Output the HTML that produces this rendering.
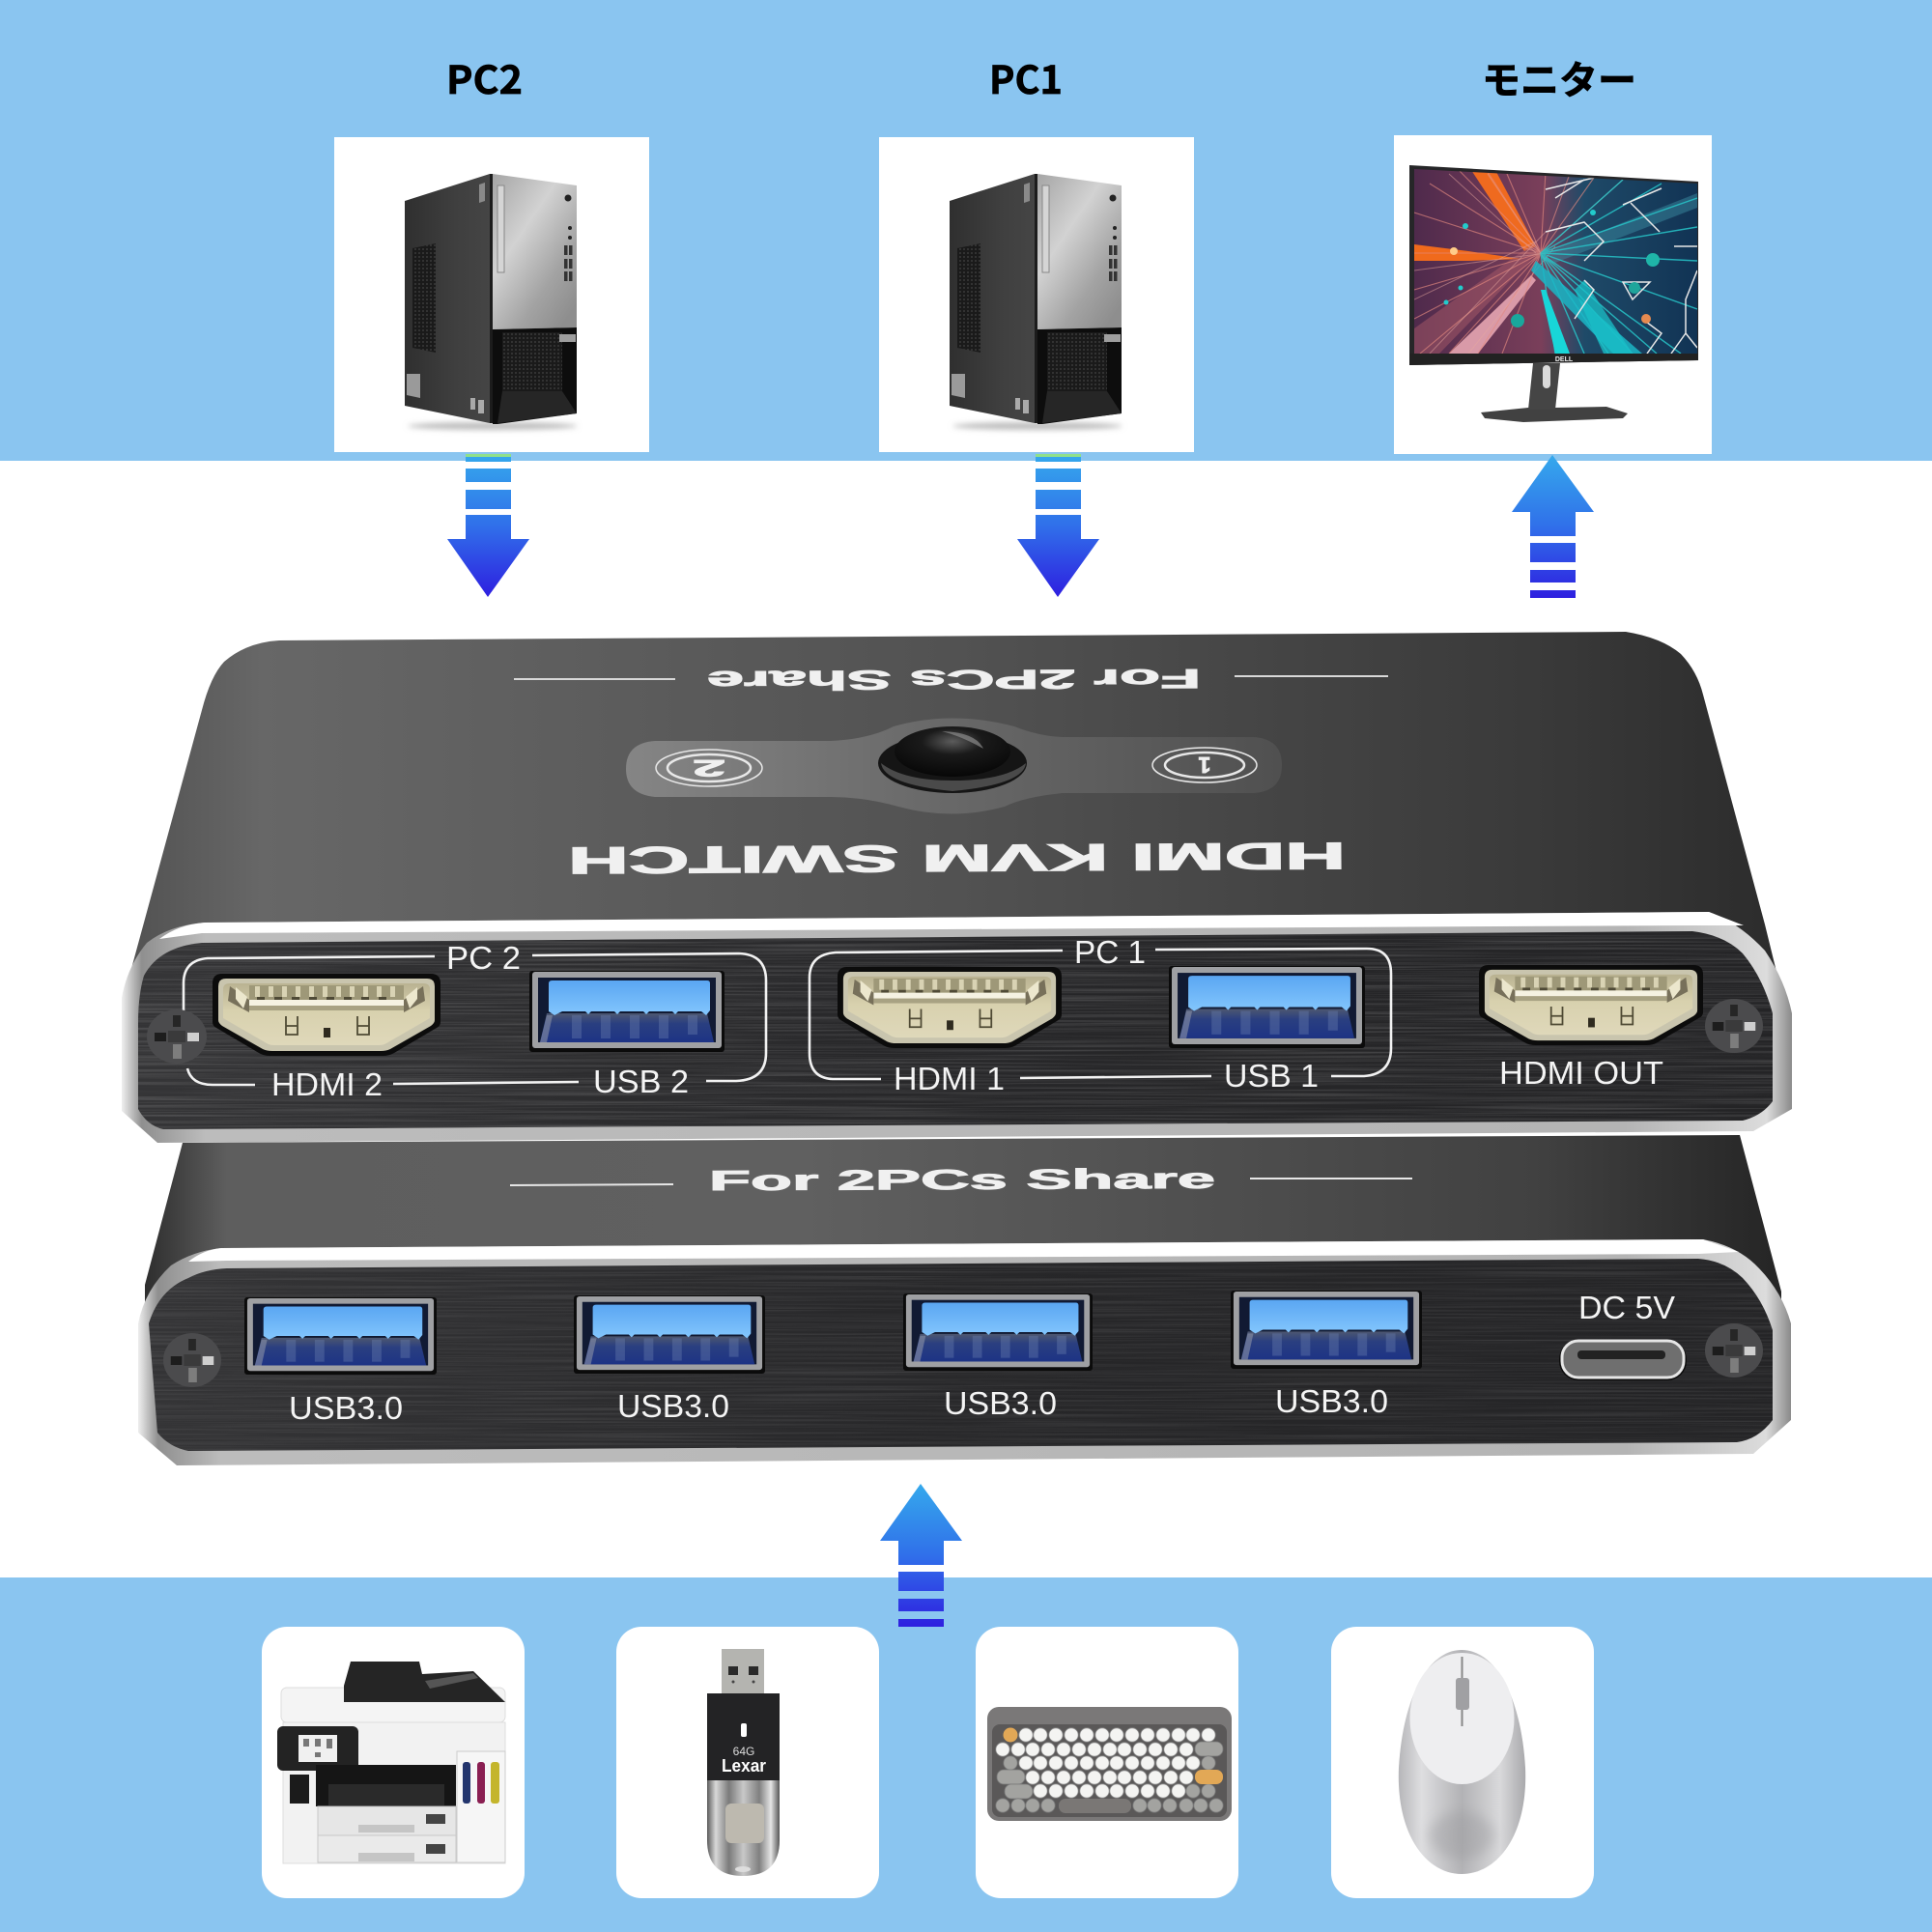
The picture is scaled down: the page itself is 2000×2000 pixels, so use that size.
<!DOCTYPE html>
<html lang="ja"><head><meta charset="utf-8"><title>HDMI KVM Switch</title>
<style>html,body{margin:0;padding:0;background:#fff}svg{display:block}
.l{font-family:"Liberation Sans",sans-serif;fill:#f4f4f4}
.b{font-family:"Liberation Sans",sans-serif;font-weight:700;fill:#f0f0f0;stroke:#f0f0f0;stroke-width:.9}
.t{font-family:"Noto Sans CJK JP","Liberation Sans",sans-serif;font-weight:700;fill:#000;stroke:#000;stroke-width:.7}
</style></head><body>
<svg xmlns="http://www.w3.org/2000/svg" width="2000" height="2000" viewBox="0 0 2000 2000">
<defs>
<linearGradient id="ad" x1="0" y1="0" x2="0" y2="1"><stop offset="0" stop-color="#35a9ec"/><stop offset=".5" stop-color="#3070ea"/><stop offset="1" stop-color="#2e1fe0"/></linearGradient>
<linearGradient id="topS" x1="0" y1="0" x2="1" y2="0"><stop offset="0" stop-color="#525252"/><stop offset=".08" stop-color="#676767"/><stop offset=".5" stop-color="#525252"/><stop offset=".85" stop-color="#3a3a3a"/><stop offset="1" stop-color="#2c2c2c"/></linearGradient>
<linearGradient id="topS2" x1="0" y1="0" x2="1" y2="0"><stop offset="0" stop-color="#2e2e2e"/><stop offset=".05" stop-color="#5e5e5e"/><stop offset=".4" stop-color="#606060"/><stop offset=".85" stop-color="#414141"/><stop offset="1" stop-color="#252525"/></linearGradient>
<linearGradient id="face" x1="0" y1="0" x2="1" y2="0"><stop offset="0" stop-color="#343436"/><stop offset=".5" stop-color="#272729"/><stop offset="1" stop-color="#242426"/></linearGradient>
<linearGradient id="bez" x1="0" y1="0" x2="1" y2="0"><stop offset="0" stop-color="#efefef"/><stop offset=".012" stop-color="#8f8f8f"/><stop offset=".05" stop-color="#bcbcbc"/><stop offset=".9" stop-color="#b4b4b4"/><stop offset=".985" stop-color="#dcdcdc"/><stop offset="1" stop-color="#8a8a8a"/></linearGradient>
<linearGradient id="plate" x1="0" y1="0" x2="1" y2="0"><stop offset="0" stop-color="#858585"/><stop offset=".45" stop-color="#6a6a6a"/><stop offset="1" stop-color="#505050"/></linearGradient>
<filter id="brush" x="0" y="0" width="1" height="1" color-interpolation-filters="sRGB"><feTurbulence type="fractalNoise" baseFrequency="0.004 0.55" numOctaves="2" seed="7"/><feColorMatrix type="matrix" values="0 0 0 0 1 0 0 0 0 1 0 0 0 0 1 .9 0 0 0 -.36"/><feComposite in2="SourceGraphic" operator="in"/></filter>
<filter id="soft" x="-20%" y="-100%" width="140%" height="300%"><feGaussianBlur stdDeviation="3"/></filter>
<filter id="soft1" x="-20%" y="-20%" width="140%" height="140%"><feGaussianBlur stdDeviation="6"/></filter>
<radialGradient id="btn" cx=".5" cy=".3" r=".75"><stop offset="0" stop-color="#5c5c5c"/><stop offset=".35" stop-color="#1a1a1a"/><stop offset="1" stop-color="#050505"/></radialGradient>
<linearGradient id="sil" x1="0" y1="0" x2=".8" y2="1"><stop offset="0" stop-color="#a5a5a5"/><stop offset=".4" stop-color="#d2d2d2"/><stop offset=".75" stop-color="#a3a3a3"/><stop offset="1" stop-color="#8e8e8e"/></linearGradient>
<linearGradient id="side" x1="0" y1="0" x2="1" y2="0"><stop offset="0" stop-color="#2f2f2f"/><stop offset=".6" stop-color="#3f3f3f"/><stop offset="1" stop-color="#454545"/></linearGradient>
<linearGradient id="usbt" x1="0" y1="0" x2="0" y2="1"><stop offset="0" stop-color="#5aa6f2"/><stop offset="1" stop-color="#83c6fd"/></linearGradient>
<linearGradient id="usbb" x1="0" y1="0" x2="0" y2="1"><stop offset="0" stop-color="#4d5770"/><stop offset=".35" stop-color="#2a3f80"/><stop offset="1" stop-color="#1d3385"/></linearGradient>
<linearGradient id="cream" x1="0" y1="0" x2="0" y2="1"><stop offset="0" stop-color="#b9b291"/><stop offset=".45" stop-color="#d8d1ae"/><stop offset="1" stop-color="#dfd8ba"/></linearGradient>
<linearGradient id="mouse" x1="0" y1="0" x2="1" y2="0"><stop offset="0" stop-color="#b6b6b9"/><stop offset=".18" stop-color="#dedee0"/><stop offset=".5" stop-color="#b2b2b5"/><stop offset=".8" stop-color="#d9d9db"/><stop offset="1" stop-color="#a9a9ac"/></linearGradient>
<linearGradient id="met" x1="0" y1="0" x2="1" y2="0"><stop offset="0" stop-color="#5c5c5c"/><stop offset=".12" stop-color="#d8d8d8"/><stop offset=".3" stop-color="#7a7a7a"/><stop offset=".5" stop-color="#c8c8c8"/><stop offset=".72" stop-color="#808080"/><stop offset=".88" stop-color="#e5e5e5"/><stop offset="1" stop-color="#555"/></linearGradient>
<linearGradient id="scr" x1="0" y1="0" x2="1" y2="0"><stop offset="0" stop-color="#4f2a4c"/><stop offset=".45" stop-color="#7a3f5a"/><stop offset=".6" stop-color="#1f4a68"/><stop offset="1" stop-color="#113354"/></linearGradient>
<pattern id="mesh" width="4" height="4" patternUnits="userSpaceOnUse"><rect width="4" height="4" fill="#1a1a1a"/><circle cx="2" cy="2" r="1" fill="#3a3a3a"/></pattern>

<symbol id="hdmi" viewBox="0 0 236 85" preserveAspectRatio="none">
<path d="M10 0H226Q236 0 236 10V50Q236 54 232 56L188 82Q183 85 176 85H60Q53 85 48 82L4 56Q0 54 0 50V10Q0 0 10 0Z" fill="#0c0c0c"/>
<path d="M14 5H222Q230 5 230 13V48Q230 51 226 54L184 78Q180 80 174 80H62Q56 80 52 78L10 54Q6 51 6 48V13Q6 5 14 5Z" fill="#c9c5ae"/>
<path d="M18 10H218Q225 10 225 16V46L180 72Q177 74 172 74H64Q59 74 56 72L11 46V16Q11 10 18 10Z" fill="url(#cream)"/>
<rect x="38" y="12" width="160" height="15" fill="#9e9878"/>
<g fill="#d9d3b4"><rect x="44" y="13" width="5" height="11"/><rect x="58" y="13" width="5" height="11"/><rect x="72" y="13" width="5" height="11"/><rect x="86" y="13" width="5" height="11"/><rect x="100" y="13" width="5" height="11"/><rect x="114" y="13" width="5" height="11"/><rect x="128" y="13" width="5" height="11"/><rect x="142" y="13" width="5" height="11"/><rect x="156" y="13" width="5" height="11"/><rect x="170" y="13" width="5" height="11"/><rect x="184" y="13" width="5" height="11"/></g>
<g fill="#4f4a36"><rect x="46" y="24" width="8" height="3"/><rect x="64" y="24" width="8" height="3"/><rect x="82" y="24" width="8" height="3"/><rect x="100" y="24" width="8" height="3"/><rect x="118" y="24" width="8" height="3"/><rect x="136" y="24" width="8" height="3"/><rect x="154" y="24" width="8" height="3"/><rect x="172" y="24" width="8" height="3"/></g>
<rect x="38" y="27" width="160" height="6" fill="#f5f2e2"/>
<rect x="38" y="33" width="160" height="5" fill="#a8a283"/>
<path d="M18 13L38 27V40L16 28ZM218 13L198 27V40L220 28Z" fill="#77705a"/>
<path d="M24 14L36 24 32 36 24 26ZM212 14L200 24 204 36 212 26Z" fill="#ece7cd"/>
<g fill="none" stroke="#4f4a34" stroke-width="1.8"><path d="M76 44V63H88V44M76 54H88"/><path d="M150 44V63H162V44M150 54H162"/></g>
<rect x="115" y="56" width="7" height="10" fill="#2f2b1f"/>
</symbol>

<symbol id="usb" viewBox="0 0 202 84" preserveAspectRatio="none">
<rect x="0" y="0" width="202" height="84" rx="3" fill="#0b0b0b"/>
<rect x="3" y="1" width="196" height="79" rx="3" fill="#9fa0a3"/>
<rect x="9" y="7" width="184" height="67" fill="#111a33"/>
<path d="M18 44H184L191 74H11Z" fill="url(#usbb)"/>
<g fill="#7186b5" opacity=".35"><rect x="44" y="46" width="10" height="24"/><rect x="74" y="46" width="10" height="24"/><rect x="104" y="46" width="10" height="24"/><rect x="134" y="46" width="10" height="24"/><rect x="164" y="46" width="10" height="20"/></g>
<path d="M11 74L18 46H24L18 74Z" fill="#8c93a6" opacity=".6"/>
<path d="M20 13Q20 10 24 10H184Q187 10 187 13V41L183 46 178 42H154L151 45 148 42H124L121 45 118 42H94L91 45 88 42H64L61 45 58 42H34L26 46 20 42Z" fill="url(#usbt)"/>
</symbol>

<symbol id="screw" viewBox="0 0 62 56" preserveAspectRatio="none">
<ellipse cx="31" cy="28" rx="31" ry="28" fill="#4b4b4d"/>
<rect x="27" y="6" width="8" height="12" fill="#262626"/><rect x="8" y="24" width="12" height="9" fill="#1d1d1d"/><rect x="42" y="24" width="12" height="9" fill="#cfcfcf"/><rect x="27" y="36" width="9" height="15" fill="#7d7d7d"/><rect x="22" y="22" width="18" height="12" fill="#333" opacity=".7"/>
</symbol>

<g id="pc">
<ellipse cx="510" cy="441" rx="88" ry="4" fill="#bdbdbd" filter="url(#soft)"/>
<path d="M419 208L507 180V438L419 420Z" fill="url(#side)"/>
<path d="M427 257L451 252V365L427 360Z" fill="url(#mesh)"/>
<path d="M496 191L502 189V208L496 210Z" fill="#8a8a8a"/>
<path d="M421 387H435V412L421 409Z" fill="#9a9a9a"/><path d="M487 412H492V424H487ZM495 414H501V428H495Z" fill="#aaa"/>
<path d="M507 180L510 180V340L515 438H507Z" fill="#1c1c1c"/>
<path d="M510 180L597 192V339L510 341Z" fill="url(#sil)"/>
<path d="M510 341L597 339V428L515 439H510Z" fill="#0d0d0d"/>
<path d="M520 344H582V405H520Z" fill="url(#mesh)"/>
<path d="M520 405H582L597 428 515 438Z" fill="#262626"/>
<rect x="579" y="346" width="17" height="8" fill="#9e9e9e"/>
<rect x="515" y="192" width="7" height="90" fill="#d5d5d5" stroke="#888" stroke-width="1"/>
<circle cx="588" cy="205" r="3.5" fill="#222"/><circle cx="590" cy="236" r="2" fill="#222"/><circle cx="590" cy="246" r="2" fill="#222"/>
<g fill="#333"><rect x="584" y="254" width="3.5" height="10"/><rect x="589" y="254" width="3.5" height="10"/><rect x="584" y="268" width="3.5" height="10"/><rect x="589" y="268" width="3.5" height="10"/><rect x="584" y="281" width="3.5" height="10"/><rect x="589" y="281" width="3.5" height="10"/></g>
</g>

<g id="adown" fill="url(#ad)">
<path d="M482 470H529V478H482ZM482 485H529V499H482ZM482 507H529V527H482ZM482 533H529V558H548L505 618 463 558H482Z"/>
<rect x="482" y="470" width="47" height="3" fill="#8fe08a"/>
</g>
<g id="aup">
<path fill="url(#ad)" d="M1607 471L1650 530H1631V582H1584V530H1565ZM1584 590H1631V603H1584ZM1584 611H1631V619H1584Z"/>
<rect x="1580" y="555" width="55" height="7" fill="#fff"/>
</g>
</defs>

<rect width="2000" height="2000" fill="#fff"/>
<rect width="2000" height="477" fill="#8ac5f0"/>
<rect y="1633" width="2000" height="367" fill="#8ac5f0"/>

<rect x="346" y="142" width="326" height="326" fill="#fff"/>
<rect x="910" y="142" width="326" height="326" fill="#fff"/>
<rect x="1443" y="140" width="329" height="330" fill="#fff"/>
<text class="t" x="462" y="97" font-size="40" textLength="79" lengthAdjust="spacingAndGlyphs">PC2</text>
<text class="t" x="1024" y="97" font-size="40" textLength="76" lengthAdjust="spacingAndGlyphs">PC1</text>
<text class="t" x="1534" y="97" font-size="40" textLength="160" lengthAdjust="spacingAndGlyphs">モニター</text>

<use href="#pc"/>
<use href="#pc" x="564"/>

<!-- monitor -->
<path d="M1533 427L1582 422H1610L1663 421 1685 428 1680 433 1577 437 1537 433Z" fill="#414141"/>
<path d="M1587 376H1615L1610 424H1582Z" fill="#454545"/><rect x="1597" y="378" width="8" height="24" rx="4" fill="#fff" opacity=".8"/>
<path d="M1459 171L1758 188V373L1459 378Z" fill="#262628"/>
<path d="M1464 175L1757 190V366L1464 366Z" fill="url(#scr)"/>
<clipPath id="sc"><path d="M1464 175L1757 190V366L1464 366Z"/></clipPath>
<g clip-path="url(#sc)">
<path d="M1523 176L1549 178 1590 255 1578 260Z" fill="#ef6a1f"/>
<path d="M1464 253L1520 260 1575 268 1520 270 1464 270Z" fill="#f06a1c"/>
<path d="M1500 366L1585 285 1590 290 1530 366Z" fill="#d99aa8"/>
<path d="M1464 340L1590 250 1595 258 1490 366H1464Z" fill="#a85a68" opacity=".5"/>
<g stroke="#e58a80" stroke-width="1.1" opacity=".65" fill="none"><path d="M1595 262L1600 178M1595 262L1625 180M1595 262L1650 184M1595 262L1680 186M1595 262L1560 180M1595 262L1540 178M1595 262L1510 176M1595 262L1480 190M1595 262L1464 220M1595 262L1464 262M1595 262L1464 300M1595 262L1464 330M1595 262L1470 366M1595 262L1500 366M1595 262L1530 366M1595 262L1555 366"/></g>
<g stroke="#e8a8a0" stroke-width="1" opacity=".5" fill="none"><path d="M1464 280L1600 262M1464 310L1590 250M1480 366L1600 240M1520 366L1610 255M1500 180L1590 262M1540 180L1600 270"/></g>
<path d="M1600 262L1757 200V215L1610 272Z" fill="#3a8aa0" opacity=".5"/>
<g stroke="#27c5c9" stroke-width="1.4" opacity=".85" fill="none"><path d="M1595 262L1757 205M1595 262L1757 235M1595 262L1757 270M1595 262L1757 320M1595 262L1740 366M1595 262L1715 366M1595 262L1690 366M1595 262L1665 366M1595 262L1640 366M1595 262L1610 366M1595 262L1720 190M1595 262L1680 186"/></g>
<path d="M1590 270L1700 366H1670L1585 280Z" fill="#1bb6c5" opacity=".85"/>
<path d="M1600 300L1625 366H1610L1595 300Z" fill="#18d6d8"/>
<path d="M1640 290L1690 366H1660L1630 300Z" fill="#1ac0c8" opacity=".75"/>
<g fill="none" stroke="#e8e8e8" stroke-width="1.5"><path d="M1600 196L1650 184M1610 205L1640 186M1680 212L1720 195M1688 210L1718 240M1733 255H1757M1757 280L1745 310V345L1757 360M1745 345L1730 366M1680 292H1708L1690 310ZM1600 240L1640 230 1660 250 1640 270M1640 290L1650 300 1630 330M1700 330L1720 345 1705 366"/></g>
<circle cx="1711" cy="269" r="7" fill="#1fb5a8"/><circle cx="1571" cy="332" r="7" fill="#19a79c"/><circle cx="1692" cy="298" r="6" fill="#1fa59b"/><circle cx="1517" cy="234" r="3" fill="#2cc"/><circle cx="1512" cy="298" r="2.5" fill="#2cc"/><circle cx="1497" cy="313" r="2.5" fill="#2cc"/><circle cx="1649" cy="220" r="3" fill="#2cc"/><circle cx="1505" cy="260" r="4" fill="#fc8"/><circle cx="1704" cy="330" r="5" fill="#e58a50"/>
</g>
<path d="M1459 366H1758V373L1459 378Z" fill="#222"/>
<text x="1619" y="374" font-family="Liberation Sans,sans-serif" font-size="7" font-weight="700" fill="#eee" text-anchor="middle">DELL</text>

<use href="#adown"/>
<use href="#adown" x="590"/>
<use href="#aup"/>
<use href="#aup" x="-654" y="1065"/>

<!-- lower device -->
<path d="M189 1183L1801 1175 1844 1337V1400H150V1330Z" fill="url(#topS2)"/>
<text class="b" x="734" y="1231" font-size="29" textLength="524" lengthAdjust="spacingAndGlyphs" transform="rotate(-.25 996 1222)">For 2PCs Share</text>
<path d="M528 1227L697 1226" stroke="#e6e6e6" stroke-width="2"/><path d="M1294 1220L1462 1220" stroke="#e6e6e6" stroke-width="2"/>
<path d="M229 1292L1763 1283Q1800 1290 1821 1313 1845 1338 1854 1370V1470L1815 1505 183 1517 143 1483V1370Q150 1335 177 1310 200 1295 229 1292Z" fill="url(#bez)"/>
<path d="M229 1292L1763 1283 1800 1296 1758 1298 235 1305 195 1306Q210 1294 229 1292Z" fill="#fff"/>
<path d="M235 1313L1758 1303Q1785 1305 1804 1323 1825 1345 1835 1377V1470Q1820 1490 1798 1493L195 1502Q175 1498 163 1483L154 1370Q165 1335 195 1323 212 1314 235 1313Z" fill="url(#face)"/>
<path d="M235 1313L1758 1303Q1785 1305 1804 1323 1825 1345 1835 1377V1470Q1820 1490 1798 1493L195 1502Q175 1498 163 1483L154 1370Q165 1335 195 1323 212 1314 235 1313Z" fill="#fff" filter="url(#brush)" opacity=".25"/>
<use href="#usb" x="253" y="1343" width="199" height="80"/>
<use href="#usb" x="594" y="1341" width="198" height="81"/>
<use href="#usb" x="935" y="1339" width="196" height="80"/>
<use href="#usb" x="1274" y="1336" width="198" height="81"/>
<text class="l" x="299" y="1469" font-size="33" textLength="118" lengthAdjust="spacingAndGlyphs">USB3.0</text>
<text class="l" x="639" y="1467" font-size="33" textLength="116" lengthAdjust="spacingAndGlyphs">USB3.0</text>
<text class="l" x="977" y="1464" font-size="33" textLength="117" lengthAdjust="spacingAndGlyphs">USB3.0</text>
<text class="l" x="1320" y="1462" font-size="33" textLength="117" lengthAdjust="spacingAndGlyphs">USB3.0</text>
<text class="l" x="1634" y="1365" font-size="33" textLength="100" lengthAdjust="spacingAndGlyphs">DC 5V</text>
<rect x="1614" y="1387" width="132" height="42" rx="20" fill="#0b0b0b"/>
<rect x="1617" y="1388" width="126" height="38" rx="17" fill="#6f6f6f" stroke="#e6e6e6" stroke-width="3"/>
<rect x="1633" y="1398" width="91" height="9" rx="4" fill="#222"/>
<use href="#screw" x="169" y="1380" width="60" height="56"/>
<use href="#screw" x="1765" y="1370" width="60" height="56"/>

<!-- upper device -->
<path d="M289 663L1683 654Q1720 660 1740 677 1757 695 1763 719L1827 957 1840 1010H134L209 735Q218 700 232 685 255 665 289 663Z" fill="url(#topS)"/>
<text class="b" x="733" y="712" font-size="28" textLength="511" lengthAdjust="spacingAndGlyphs" transform="rotate(179.75 988 703)">For 2PCs Share</text>
<path d="M532 703L699 703" stroke="#d8d8d8" stroke-width="2"/><path d="M1278 700L1437 700" stroke="#d8d8d8" stroke-width="2"/>
<path d="M678 767H860Q900 765 925 752 985 735 1050 752 1075 762 1100 763H1298Q1327 765 1327 792 1327 819 1298 821H1100Q1060 825 1040 835 985 850 930 835 895 825 860 825H678Q648 822 648 796 648 769 678 767Z" fill="url(#plate)"/>
<g fill="none" stroke="#e8e8e8"><ellipse cx="734" cy="795" rx="55" ry="19" stroke-width="1.5"/><ellipse cx="734" cy="795" rx="43" ry="14" stroke-width="2.5"/><ellipse cx="1247" cy="792" rx="54" ry="18" stroke-width="1.5"/><ellipse cx="1247" cy="792" rx="41" ry="13" stroke-width="2.5"/></g>
<text class="b" x="734" y="803" font-size="24" text-anchor="middle" transform="rotate(180 734 795)" textLength="34" lengthAdjust="spacingAndGlyphs">2</text>
<text class="b" x="1247" y="800" font-size="23" text-anchor="middle" transform="rotate(180 1247 792)">1</text>
<ellipse cx="986" cy="790" rx="77" ry="31" fill="#151515"/>
<path d="M912 790Q915 812 986 819 1060 812 1062 790Q1040 808 986 808 935 808 912 790Z" fill="#4a4a4a"/>
<ellipse cx="986" cy="778" rx="60" ry="26" fill="url(#btn)"/>
<path d="M975 757Q1010 758 1018 775 995 762 975 757Z" fill="#8a8a8a" opacity=".7"/>
<text class="b" x="589" y="903" font-size="39" textLength="805" lengthAdjust="spacingAndGlyphs" transform="rotate(179.65 991 889)" style="stroke-width:1.2">HDMI KVM SWITCH</text>

<path d="M212 955L1769 944Q1800 955 1827 984 1848 1015 1855 1049V1148L1815 1171 163 1183 126 1150V1033Q132 1000 152 976 175 958 212 955Z" fill="url(#bez)"/>
<path d="M212 955L1769 944 1805 958 1752 958 209 966 165 972Q185 957 212 955Z" fill="#fff"/>
<path d="M209 976L1752 964Q1785 968 1804 987 1825 1012 1835 1049V1140Q1824 1155 1804 1160L169 1169Q152 1165 143 1148V1060Q143 1030 149 1010 165 980 209 976Z" fill="url(#face)"/>
<path d="M209 976L1752 964Q1785 968 1804 987 1825 1012 1835 1049V1140Q1824 1155 1804 1160L169 1169Q152 1165 143 1148V1060Q143 1030 149 1010 165 980 209 976Z" fill="#fff" filter="url(#brush)" opacity=".4"/>

<g fill="none" stroke="#f2f2f2" stroke-width="2.6">
<path d="M450 990L215 992Q190 994 190 1018V1058"/>
<path d="M194 1106Q198 1123 220 1123H264"/>
<path d="M407 1122L599 1120"/>
<path d="M731 1119H762Q793 1118 793 1090V1015Q793 988 765 987L551 989"/>
<path d="M1100 984L865 986Q838 988 838 1012V1090Q838 1116 862 1117L912 1117"/>
<path d="M1056 1116L1254 1114"/>
<path d="M1378 1114H1412Q1440 1112 1440 1085V1008Q1440 982 1415 982L1196 983"/>
</g>
<use href="#hdmi" x="220" y="1008" width="236" height="85"/>
<use href="#hdmi" x="867" y="1001" width="232" height="84"/>
<use href="#hdmi" x="1531" y="999" width="232" height="83"/>
<use href="#usb" x="548" y="1005" width="202" height="84"/>
<use href="#usb" x="1210" y="1000" width="203" height="85"/>
<text class="l" x="462" y="1003" font-size="33" textLength="77" lengthAdjust="spacingAndGlyphs">PC 2</text>
<text class="l" x="1112" y="997" font-size="33" textLength="74" lengthAdjust="spacingAndGlyphs">PC 1</text>
<text class="l" x="281" y="1134" font-size="33" textLength="115" lengthAdjust="spacingAndGlyphs">HDMI 2</text>
<text class="l" x="614" y="1131" font-size="33" textLength="99" lengthAdjust="spacingAndGlyphs">USB 2</text>
<text class="l" x="925" y="1128" font-size="33" textLength="115" lengthAdjust="spacingAndGlyphs">HDMI 1</text>
<text class="l" x="1267" y="1125" font-size="33" textLength="98" lengthAdjust="spacingAndGlyphs">USB 1</text>
<text class="l" x="1552" y="1122" font-size="33" textLength="170" lengthAdjust="spacingAndGlyphs">HDMI OUT</text>
<use href="#screw" x="152" y="1045" width="62" height="56"/>
<use href="#screw" x="1765" y="1034" width="60" height="56"/>

<!-- bottom cards -->
<rect x="271" y="1684" width="272" height="281" rx="26" fill="#fff"/>
<rect x="638" y="1684" width="272" height="281" rx="26" fill="#fff"/>
<rect x="1010" y="1684" width="272" height="281" rx="26" fill="#fff"/>
<rect x="1378" y="1684" width="272" height="281" rx="26" fill="#fff"/>

<!-- printer -->
<rect x="291" y="1747" width="232" height="36" rx="6" fill="#f4f4f4" stroke="#ddd"/>
<rect x="293" y="1783" width="230" height="146" fill="#f2f2f2" stroke="#ddd"/>
<path d="M363 1720H434L437 1733 490 1730 523 1762H356V1745Z" fill="#252525"/>
<path d="M440 1740L490 1732 495 1737 445 1748Z" fill="#555"/>
<rect x="287" y="1787" width="84" height="46" rx="6" fill="#232323"/>
<rect x="309" y="1796" width="40" height="28" fill="#f0f0f0"/>
<g fill="#777"><rect x="314" y="1800" width="6" height="8"/><rect x="326" y="1800" width="6" height="8"/><rect x="338" y="1800" width="6" height="10"/><rect x="326" y="1814" width="6" height="5"/></g>
<rect x="327" y="1827" width="145" height="43" fill="#151515"/>
<rect x="340" y="1847" width="120" height="22" fill="#2a2a2a"/>
<rect x="300" y="1837" width="20" height="30" fill="#1b1b1b"/>
<rect x="473" y="1813" width="50" height="115" fill="#f6f6f6" stroke="#ccc"/>
<rect x="479" y="1824" width="8" height="43" rx="3" fill="#23356d"/><rect x="494" y="1824" width="8" height="43" rx="3" fill="#8a1f52"/><rect x="508" y="1824" width="9" height="43" rx="3" fill="#c4b52c"/>
<rect x="329" y="1870" width="143" height="30" fill="#e6e6e6" stroke="#c8c8c8"/><rect x="329" y="1900" width="143" height="28" fill="#eaeaea" stroke="#c8c8c8"/>
<rect x="441" y="1878" width="20" height="10" fill="#444"/><rect x="441" y="1909" width="20" height="10" fill="#444"/>
<rect x="371" y="1889" width="58" height="8" fill="#c5c5c5"/><rect x="371" y="1918" width="58" height="9" fill="#c5c5c5"/>

<!-- usb stick -->
<rect x="747" y="1707" width="44" height="46" fill="#b4b4b0"/>
<rect x="754" y="1725" width="10" height="9" fill="#2a2a2a"/><rect x="775" y="1725" width="10" height="9" fill="#2a2a2a"/>
<circle cx="759" cy="1741" r="1.5" fill="#444"/><circle cx="780" cy="1741" r="1.5" fill="#444"/>
<path d="M732 1843H807V1905Q807 1942 769 1942 732 1942 732 1905Z" fill="url(#met)"/>
<ellipse cx="769" cy="1935" rx="8" ry="3" fill="#ddd"/>
<rect x="751" y="1867" width="40" height="41" rx="6" fill="#bdb9af"/>
<rect x="732" y="1753" width="75" height="90" fill="#232325"/>
<rect x="767" y="1784" width="6" height="14" rx="2" fill="#fff"/>
<text x="770" y="1817" font-family="Liberation Sans,sans-serif" font-size="12" fill="#ddd" text-anchor="middle">64G</text>
<text x="770" y="1834" font-family="Liberation Sans,sans-serif" font-size="18" font-weight="700" fill="#fff" text-anchor="middle" textLength="46" lengthAdjust="spacingAndGlyphs">Lexar</text>

<!-- keyboard -->
<rect x="1022" y="1767" width="253" height="118" rx="12" fill="#7a7878"/>
<rect x="1027" y="1785" width="243" height="96" rx="8" fill="#5a5858"/>
<g fill="#f4f4f2" stroke="#888" stroke-width=".8">
<circle cx="1062" cy="1796" r="7.2"/><circle cx="1077" cy="1796" r="7.2"/><circle cx="1093" cy="1796" r="7.2"/><circle cx="1109" cy="1796" r="7.2"/><circle cx="1125" cy="1796" r="7.2"/><circle cx="1141" cy="1796" r="7.2"/><circle cx="1156" cy="1796" r="7.2"/><circle cx="1172" cy="1796" r="7.2"/><circle cx="1188" cy="1796" r="7.2"/><circle cx="1204" cy="1796" r="7.2"/><circle cx="1220" cy="1796" r="7.2"/><circle cx="1235" cy="1796" r="7.2"/><circle cx="1251" cy="1796" r="7.2"/>
<circle cx="1038" cy="1811" r="7.2"/><circle cx="1054" cy="1811" r="7.2"/><circle cx="1069" cy="1811" r="7.2"/><circle cx="1085" cy="1811" r="7.2"/><circle cx="1101" cy="1811" r="7.2"/><circle cx="1117" cy="1811" r="7.2"/><circle cx="1133" cy="1811" r="7.2"/><circle cx="1149" cy="1811" r="7.2"/><circle cx="1164" cy="1811" r="7.2"/><circle cx="1180" cy="1811" r="7.2"/><circle cx="1196" cy="1811" r="7.2"/><circle cx="1212" cy="1811" r="7.2"/><circle cx="1228" cy="1811" r="7.2"/>
<circle cx="1062" cy="1825" r="7.2"/><circle cx="1077" cy="1825" r="7.2"/><circle cx="1093" cy="1825" r="7.2"/><circle cx="1109" cy="1825" r="7.2"/><circle cx="1125" cy="1825" r="7.2"/><circle cx="1141" cy="1825" r="7.2"/><circle cx="1156" cy="1825" r="7.2"/><circle cx="1172" cy="1825" r="7.2"/><circle cx="1188" cy="1825" r="7.2"/><circle cx="1204" cy="1825" r="7.2"/><circle cx="1220" cy="1825" r="7.2"/><circle cx="1235" cy="1825" r="7.2"/>
<circle cx="1069" cy="1840" r="7.2"/><circle cx="1085" cy="1840" r="7.2"/><circle cx="1101" cy="1840" r="7.2"/><circle cx="1117" cy="1840" r="7.2"/><circle cx="1133" cy="1840" r="7.2"/><circle cx="1149" cy="1840" r="7.2"/><circle cx="1164" cy="1840" r="7.2"/><circle cx="1180" cy="1840" r="7.2"/><circle cx="1196" cy="1840" r="7.2"/><circle cx="1212" cy="1840" r="7.2"/><circle cx="1228" cy="1840" r="7.2"/>
<circle cx="1077" cy="1854" r="7.2"/><circle cx="1093" cy="1854" r="7.2"/><circle cx="1109" cy="1854" r="7.2"/><circle cx="1125" cy="1854" r="7.2"/><circle cx="1141" cy="1854" r="7.2"/><circle cx="1156" cy="1854" r="7.2"/><circle cx="1172" cy="1854" r="7.2"/><circle cx="1188" cy="1854" r="7.2"/><circle cx="1204" cy="1854" r="7.2"/><circle cx="1220" cy="1854" r="7.2"/>
</g>
<g fill="#a3a3a0" stroke="#777" stroke-width=".8">
<rect x="1237" y="1803" width="29" height="15" rx="7"/><circle cx="1046" cy="1825" r="7.2"/><circle cx="1251" cy="1825" r="7.2"/>
<rect x="1032" y="1832" width="29" height="15" rx="7"/><rect x="1040" y="1847" width="29" height="15" rx="7"/><circle cx="1235" cy="1854" r="7.2"/><circle cx="1251" cy="1854" r="7.2"/>
<circle cx="1038" cy="1869" r="7.2"/><circle cx="1054" cy="1869" r="7.2"/><circle cx="1069" cy="1869" r="7.2"/><circle cx="1085" cy="1869" r="7.2"/>
<circle cx="1180" cy="1869" r="7.2"/><circle cx="1195" cy="1869" r="7.2"/><circle cx="1211" cy="1869" r="7.2"/><circle cx="1228" cy="1869" r="7.2"/><circle cx="1243" cy="1869" r="7.2"/><circle cx="1259" cy="1869" r="7.2"/>
</g>
<rect x="1096" y="1862" width="75" height="15" rx="7" fill="#7a7775"/>
<circle cx="1046" cy="1796" r="7.5" fill="#e2a856"/><rect x="1237" y="1832" width="29" height="15" rx="7" fill="#e2a856"/>

<!-- mouse -->
<path d="M1513 1708C1550 1708 1575 1760 1579 1830 1582 1900 1550 1940 1513 1940 1477 1940 1445 1900 1448 1830 1452 1760 1477 1708 1513 1708Z" fill="url(#mouse)"/>
<ellipse cx="1513" cy="1900" rx="34" ry="24" fill="#98989b" opacity=".4" filter="url(#soft1)"/>
<ellipse cx="1513.5" cy="1779" rx="54" ry="68" fill="#eeeef0"/>
<rect x="1512.5" y="1715" width="2" height="72" fill="#888"/>
<rect x="1507" y="1737" width="14" height="33" rx="3" fill="#a0a0a3"/>
</svg>
</body></html>
